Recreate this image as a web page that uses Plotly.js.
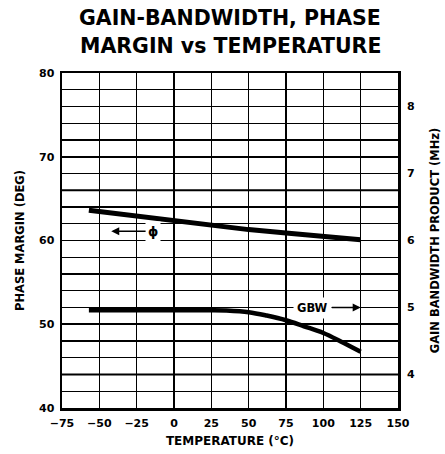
<!DOCTYPE html>
<html>
<head>
<meta charset="utf-8">
<script src="https://cdn.plot.ly/plotly-3.0.1.min.js"></script>
<style>html,body{margin:0;padding:0;background:#fff;}#chart{width:445px;height:454px;}</style>
</head>
<body>
<div id="chart"></div>
<script>
// Phase margin (deg) vs temperature
const phaseTemp = [-57, -25, 0, 25, 50, 75, 100, 125];
const phaseDeg  = [63.6, 62.9, 62.3, 61.8, 61.3, 60.9, 60.5, 60.1];
// Gain-bandwidth product (MHz) vs temperature
const gbwTemp = [-57, -25, 0, 25, 35, 50, 62, 75, 87, 100, 112, 125];
const gbwMHz  = [4.96, 4.96, 4.96, 4.96, 4.955, 4.93, 4.88, 4.81, 4.72, 4.62, 4.49, 4.34];
// Tick labels
const xTicks = [-75, -50, -25, 0, 25, 50, 75, 100, 125, 150];
const yTicks = [40, 50, 60, 70, 80];
const y2Ticks = [4, 5, 6, 7, 8];
const heavyGrid = [66, 44];
const titleLines = ['GAIN-BANDWIDTH, PHASE', 'MARGIN vs TEMPERATURE'];

const F = 'DejaVu Sans, Arial, sans-serif';
const traces = [
  {x: phaseTemp, y: phaseDeg, mode: 'lines', line: {color: '#000', width: 5}, yaxis: 'y', hoverinfo: 'skip'},
  {x: gbwTemp, y: gbwMHz, mode: 'lines', line: {color: '#000', width: 4.5, shape: 'spline'}, yaxis: 'y2', hoverinfo: 'skip'}
];
const shapes = heavyGrid.map(v => ({type: 'line', xref: 'paper', x0: 0, x1: 1, yref: 'y', y0: v, y1: v, line: {color: '#000', width: 2.2}, layer: 'below'}));
const titleFont = {family: F, size: 20.5, color: '#000', weight: 'bold'};
const layout = {
  width: 445, height: 454,
  margin: {l: 62, r: 47, t: 73, b: 46},
  paper_bgcolor: '#fff', plot_bgcolor: '#fff',
  showlegend: false,
  xaxis: {range: [-75, 150], tickvals: xTicks, showgrid: true, gridcolor: '#000', gridwidth: 1.6,
          showline: true, mirror: true, linecolor: '#000', linewidth: 2.5, zeroline: false, ticks: '',
          ticklabelstandoff: 3,
          tickfont: {family: F, size: 11, color: '#000', weight: 'bold'},
          title: {text: 'TEMPERATURE (°C)', standoff: 8, font: {family: F, size: 12, color: '#000', weight: 'bold'}}},
  yaxis: {range: [40, 80], tickvals: yTicks, showgrid: true, gridcolor: '#000', gridwidth: 1.6,
          minor: {dtick: 2, showgrid: true, gridcolor: '#000', gridwidth: 1.4},
          showline: true, mirror: true, linecolor: '#000', linewidth: 2.5, zeroline: false, ticks: '',
          ticklabelstandoff: 3,
          tickfont: {family: F, size: 11, color: '#000', weight: 'bold'},
          title: {text: 'PHASE MARGIN (DEG)', standoff: 12, font: {family: F, size: 11.5, color: '#000', weight: 'bold'}}},
  yaxis2: {range: [3.5, 8.5], tickvals: y2Ticks, overlaying: 'y', side: 'right', showgrid: false, zeroline: false,
           showline: false, ticks: '', ticklabelstandoff: 8,
           tickfont: {family: F, size: 11, color: '#000', weight: 'bold'},
           title: {text: 'GAIN BANDWIDTH PRODUCT (MHz)', standoff: 16, font: {family: F, size: 11.5, color: '#000', weight: 'bold'}}},
  shapes: shapes,
  annotations: [
    {x: 0.5, y: 1.164, xref: 'paper', yref: 'paper', xanchor: 'center', yanchor: 'middle', showarrow: false, text: titleLines[0], font: titleFont},
    {x: 0.5, y: 1.081, xref: 'paper', yref: 'paper', xanchor: 'center', yanchor: 'middle', showarrow: false, text: titleLines[1], font: titleFont},
    {x: -42, y: 61.1, xref: 'x', yref: 'y', ax: -14, ay: 61.1, axref: 'x', ayref: 'y', text: 'ϕ',
     showarrow: true, arrowhead: 2, arrowsize: 1, arrowwidth: 1.6, arrowcolor: '#000', bgcolor: '#fff', borderpad: 2,
     font: {family: F, size: 13, color: '#000', weight: 'bold'}},
    {x: 125, y: 5.0, xref: 'x', yref: 'y2', ax: 93, ay: 5.0, axref: 'x', ayref: 'y2', text: 'GBW',
     showarrow: true, arrowhead: 2, arrowsize: 1, arrowwidth: 1.6, arrowcolor: '#000', bgcolor: '#fff', borderpad: 3,
     font: {family: F, size: 11.5, color: '#000', weight: 'bold'}}
  ]
};
Plotly.newPlot('chart', traces, layout, {displayModeBar: false, staticPlot: true});
</script>
</body>
</html>
